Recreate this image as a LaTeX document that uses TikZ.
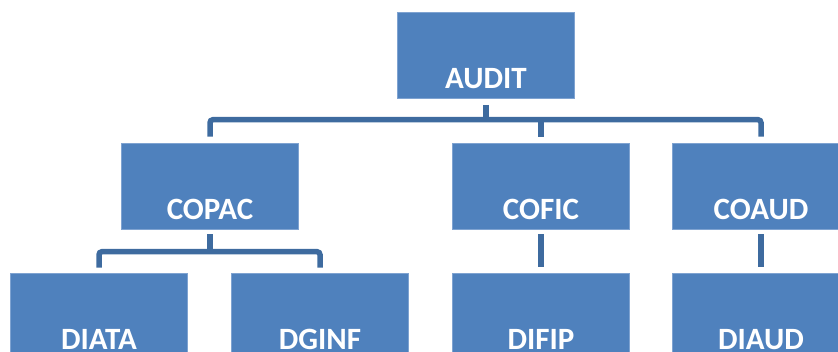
\documentclass[tikz,border=0pt]{standalone}
\usepackage{fontspec}
\setmainfont{Carlito}
\definecolor{boxblue}{HTML}{4F81BD}
\definecolor{boxedge}{HTML}{7FA3D1}
\definecolor{linkblue}{HTML}{3E6B9F}
\tikzset{
  orgbox/.style={rectangle, fill=boxblue, draw=boxedge, line width=0.6pt,
    minimum width=177pt, minimum height=86pt, inner sep=0pt},
  boxtext/.style={anchor=base, yshift=10pt, text=white, font=\bfseries\fontsize{31}{31}\selectfont, inner sep=0pt},
  conn/.style={draw=linkblue, line width=5.5pt, rounded corners=3pt}
}
\begin{document}
\begin{tikzpicture}[x=1pt,y=-1pt]
\useasboundingbox (0,0) rectangle (838,351);
\clip (0,0) rectangle (838,351);
\node[orgbox, label={[boxtext]south:AUDIT}] (audit) at (486,55.5) {};
\node[orgbox, label={[boxtext]south:COPAC}] (copac) at (210,186) {};
\node[orgbox, label={[boxtext]south:COFIC}] (cofic) at (541,186) {};
\node[orgbox, label={[boxtext]south:COAUD}] (coaud) at (761,186) {};
\node[orgbox, label={[boxtext]south:DIATA}] (diata) at (99,316) {};
\node[orgbox, label={[boxtext]south:DGINF}] (dginf) at (320,316) {};
\node[orgbox, label={[boxtext]south:DIFIP}] (difip) at (541,316) {};
\node[orgbox, label={[boxtext]south:DIAUD}] (diaud) at (761,316) {};
% level 1 connectors
\draw[conn] ([yshift=-6pt]audit.south) -- +(0,17);
\draw[conn] ([yshift=6pt]copac.north) -- ++(0,-17) -| ([yshift=6pt]coaud.north);
\draw[conn] ([yshift=6pt]cofic.north) -- +(0,-17);
% level 2 connectors
\draw[conn] ([yshift=-5pt]copac.south) -- +(0,18);
\draw[conn] ([yshift=5pt]diata.north) -- ++(0,-16) -| ([yshift=5pt]dginf.north);
\draw[conn] ([yshift=-5pt]cofic.south) -- ([yshift=6pt]difip.north);
\draw[conn] ([yshift=-5pt]coaud.south) -- ([yshift=6pt]diaud.north);
\end{tikzpicture}
\end{document}
